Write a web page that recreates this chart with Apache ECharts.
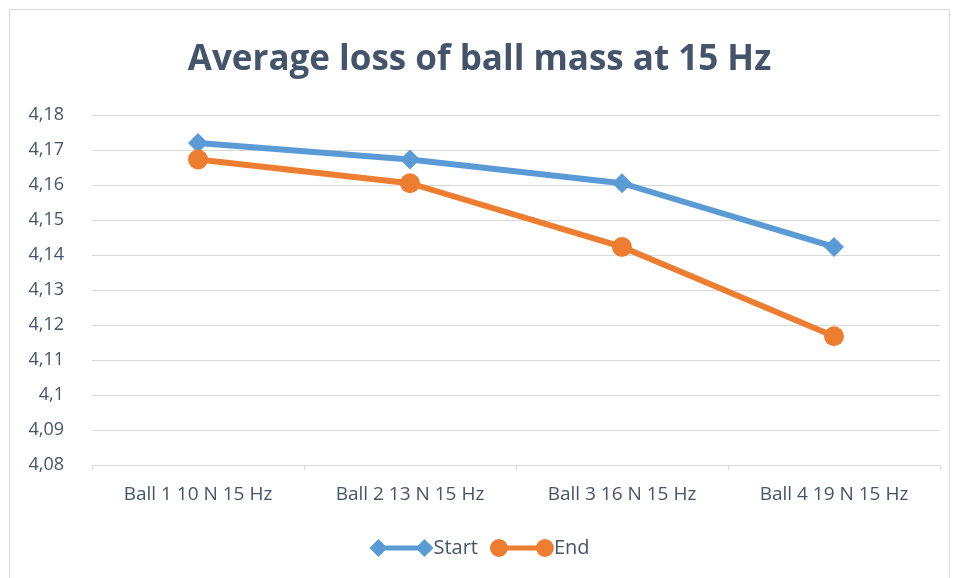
<!DOCTYPE html>
<html>
<head>
<meta charset="utf-8">
<script src="https://cdn.jsdelivr.net/npm/echarts@6/dist/echarts.min.js"></script>
<style>
  html, body { margin: 0; padding: 0; background: #fff; }
  #main { position: absolute; left: 9px; top: 9px; width: 941px; height: 569px; border: 1px solid #d9d9d9; border-bottom: none; box-sizing: border-box; }
</style>
</head>
<body>
<div id="main"></div>
<script>
var categories = ['Ball 1 10 N 15 Hz', 'Ball 2 13 N 15 Hz', 'Ball 3 16 N 15 Hz', 'Ball 4 19 N 15 Hz'];
var startValues = [4.172, 4.1673, 4.1605, 4.1423];
var endValues = [4.1673, 4.1605, 4.1423, 4.1168];

var chart = echarts.init(document.getElementById('main'));
var textColor = '#44546a';

// legend icons like Excel: marker at both ends of the line
var diamondIcon = 'path://M0 9 L9 0 L18 9 L9 18 Z M9 6.5 L55 6.5 L55 11.5 L9 11.5 Z M46 9 L55 0 L64 9 L55 18 Z';
var circleIcon = 'path://M0 9 A9 9 0 1 1 18 9 A9 9 0 1 1 0 9 Z M9 6.5 L55 6.5 L55 11.5 L9 11.5 Z M46 9 A9 9 0 1 1 64 9 A9 9 0 1 1 46 9 Z';

var option = {
  color: ['#5b9bd5', '#ed7d31'],
  title: {
    text: 'Average loss of ball mass at 15 Hz',
    left: 'center',
    top: 28,
    textStyle: {
      fontFamily: 'Open Sans',
      fontSize: 35,
      fontWeight: 'bold',
      color: textColor
    }
  },
  legend: {
    bottom: 15,
    left: 'center',
    itemWidth: 64,
    itemHeight: 18,
    itemGap: 12,
    textStyle: { fontFamily: 'Open Sans', fontSize: 20, color: textColor, padding: [0, 0, 0, -5] },
    data: [
      { name: 'Start', icon: diamondIcon },
      { name: 'End', icon: circleIcon }
    ]
  },
  grid: {
    left: 82,
    right: 9,
    top: 105,
    bottom: 113,
    containLabel: false
  },
  xAxis: {
    type: 'category',
    data: categories,
    boundaryGap: true,
    axisLine: { lineStyle: { color: '#d9d9d9', width: 1 } },
    axisTick: { show: true, length: 5, lineStyle: { color: '#d9d9d9' } },
    axisLabel: { margin: 20, fontFamily: 'Open Sans', fontSize: 19, color: textColor }
  },
  yAxis: {
    type: 'value',
    min: 4.08,
    max: 4.18,
    interval: 0.01,
    axisLine: { show: false },
    axisTick: { show: false },
    splitLine: { lineStyle: { color: '#d9d9d9', width: 1 } },
    axisLabel: {
      margin: 28,
      fontFamily: 'Open Sans',
      fontSize: 18,
      color: textColor,
      formatter: function (v) {
        return String(Math.round(v * 100) / 100).replace('.', ',');
      }
    }
  },
  series: [
    {
      name: 'Start',
      type: 'line',
      data: startValues,
      symbol: 'diamond',
      symbolSize: 20,
      lineStyle: { width: 6 },
      itemStyle: { color: '#5b9bd5' }
    },
    {
      name: 'End',
      type: 'line',
      data: endValues,
      symbol: 'circle',
      symbolSize: 20,
      lineStyle: { width: 6 },
      itemStyle: { color: '#ed7d31' }
    }
  ]
};

chart.setOption(option);
</script>
</body>
</html>
